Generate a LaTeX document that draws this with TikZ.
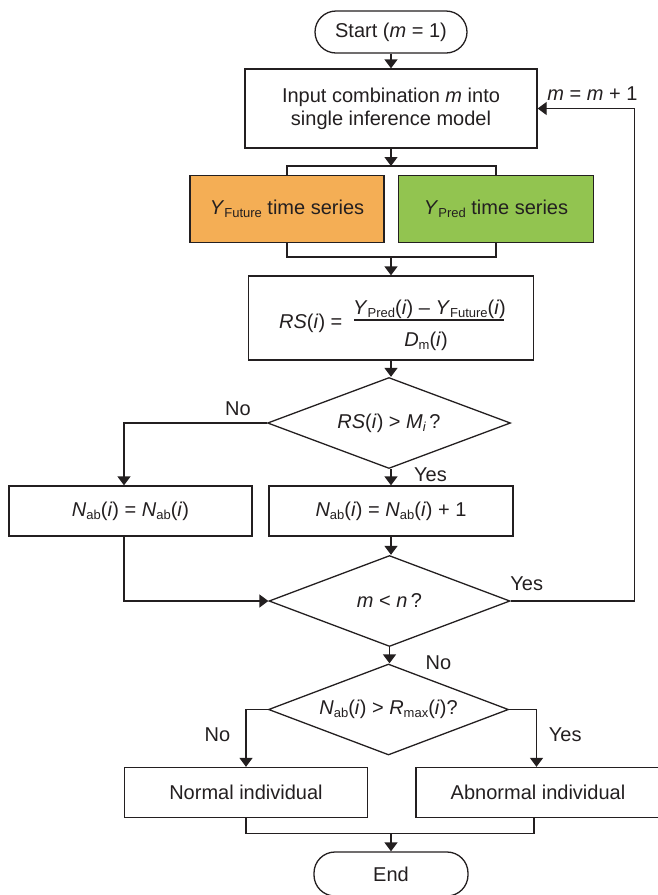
\documentclass[tikz,border=0pt]{standalone}
\usepackage{fontspec}
\setmainfont{Liberation Sans}
\usetikzlibrary{arrows.meta,shapes.geometric}

\definecolor{lineclr}{RGB}{35,31,32}
\definecolor{futclr}{RGB}{244,174,85}
\definecolor{predclr}{RGB}{146,196,80}

% small lowered subscript in the text font
\newcommand\lowsub[1]{\raisebox{-3pt}{\fontsize{13}{13}\selectfont #1}}
\newcommand\vi{\textit{i}}

\begin{document}
\begin{tikzpicture}[x=1pt,y=-1pt,
  every node/.style={font=\fontsize{20}{23}\selectfont, text=lineclr},
  box/.style={draw=lineclr, line width=1.3pt, rectangle, inner sep=0pt, align=center},
  term/.style={box, rounded corners=21pt},
  cond/.style={draw=lineclr, line width=1.3pt, diamond, aspect=2.65, inner sep=0pt},
  lbl/.style={anchor=base, inner sep=0pt},
  flow/.style={draw=lineclr, line width=1.3pt},
  arrow/.style={flow, -{Triangle[width=13pt,length=9pt]}},
]
\useasboundingbox (0,0) rectangle (658,895);

% ---- nodes ----
\node[term, minimum width=152pt, minimum height=42pt] (start) at (391,32) {Start (\textit{m} = 1)};
\node[box, minimum width=292pt, minimum height=79pt] (input) at (391,108.5)
  {Input combination \textit{m} into\\single inference model};
\node[box, fill=futclr, minimum width=194pt, minimum height=67pt] (fut) at (287,209)
  {\textit{Y}\lowsub{Future} time series};
\node[box, fill=predclr, minimum width=195pt, minimum height=67pt] (pred) at (496,209)
  {\textit{Y}\lowsub{Pred} time series};

\node[box, minimum width=285pt, minimum height=84pt] (rs) at (391,318) {};
\node[lbl, anchor=base west] (rslhs) at (279,328) {\textit{RS}(\vi) =};
\node[lbl] (rsnum) at (429.5,314) {\textit{Y}\lowsub{Pred}(\vi) -- \textit{Y}\lowsub{Future}(\vi)};
\node[lbl] (rsden) at (426,346.5) {\textit{D}\lowsub{m}(\vi)};
\draw[draw=lineclr, line width=1.5pt] (354,320) -- (504,320);

\node[cond, minimum width=243pt, minimum height=91pt] (d1) at (389,423)
  {\textit{RS}(\vi) > \textit{M}\lowsub{\textit{i}}\,?};
\node[box, minimum width=243pt, minimum height=50pt] (nl) at (130.5,511)
  {\textit{N}\lowsub{ab}(\vi) = \textit{N}\lowsub{ab}(\vi)};
\node[box, minimum width=244pt, minimum height=50pt] (nr) at (391,511)
  {\textit{N}\lowsub{ab}(\vi) = \textit{N}\lowsub{ab}(\vi) + 1};
\node[cond, minimum width=241pt, minimum height=91pt] (d2) at (389.5,601)
  {\textit{m} < \textit{n}\,?};
\node[cond, minimum width=240pt, minimum height=91pt] (d3) at (388.5,709.5)
  {\textit{N}\lowsub{ab}(\vi) > \textit{R}\lowsub{max}(\vi)?};
\node[box, minimum width=243pt, minimum height=50pt] (normal) at (246,792.5) {Normal individual};
\node[box, minimum width=244pt, minimum height=50pt] (abn) at (538,792.5) {Abnormal individual};
\node[term, minimum width=154pt, minimum height=44pt] (end) at (391,874) {End};

% ---- junction points ----
\coordinate (j1) at (391,166);
\coordinate (j2) at (391,257);
\coordinate (j3) at (391,833.3);
\coordinate (loopc) at (634.7,108.5);

% ---- connectors ----
\draw[arrow] (start) -- (input);
\draw[arrow] (input) -- (j1);
\draw[flow] (fut.north) |- (j1) -| (pred.north);
\draw[flow] (fut.south) |- (j2) -| (pred.south);
\draw[arrow] (j2) -- (rs.north);
\draw[arrow] (rs.south) -- (rs.south |- d1.north);
\draw[arrow] (d1.west) -| ([xshift=-6.5pt]nl.north);
\draw[arrow] (nr.north |- d1.south) -- (nr.north);
\draw[arrow] (nr.south) -- (nr.south |- d2.north);
\draw[arrow] ([xshift=-6.5pt]nl.south) |- (d2.west);
\draw[arrow] (d2.east) -| (loopc) -- (input.east);
\draw[arrow] (d2.south) -- (d2.south |- d3.north);
\draw[arrow] (d3.west) -| (normal.north);
\draw[arrow] (d3.east) -| ([xshift=-1.5pt]abn.north);
\draw[flow] (normal.south) |- (j3) -| ([xshift=-4pt]abn.south);
\draw[arrow] (j3) -- (end.north);

% ---- branch labels ----
\node[lbl] (loopl) at (592.5,100) {\textit{m} = \textit{m} + 1};
\node[lbl] (no1) at (238,415) {No};
\node[lbl] (yes1) at (430.5,481.7) {Yes};
\node[lbl] (yes2) at (526.7,590) {Yes};
\node[lbl] (no2) at (438.5,669.3) {No};
\node[lbl] (no3) at (217.5,741.7) {No};
\node[lbl] (yes3) at (565.2,741.7) {Yes};
\end{tikzpicture}
\end{document}
